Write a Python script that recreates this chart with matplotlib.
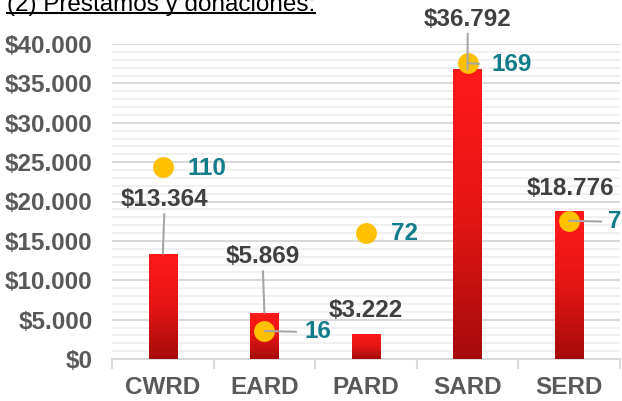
import numpy as np
import matplotlib
matplotlib.use("Agg")
import matplotlib.pyplot as plt
from matplotlib import font_manager
from matplotlib.colors import LinearSegmentedColormap
from matplotlib.lines import Line2D

# data
categories = ["CWRD", "EARD", "PARD", "SARD", "SERD"]
amounts = [13364, 5869, 3222, 36792, 18776]
amount_labels = ["$13.364", "$5.869", "$3.222", "$36.792", "$18.776"]
counts = [110, 16, 72, 169, 79]
count_labels = ["110", "16", "72", "169", "79"]
yticks = [0, 5000, 10000, 15000, 20000, 25000, 30000, 35000, 40000]
ytick_labels = ["$0", "$5.000", "$10.000", "$15.000", "$20.000",
                "$25.000", "$30.000", "$35.000", "$40.000"]
title = "(2) Préstamos y donaciones:"

# label placement (pixel offsets) and leader lines
amt_off = [(2, 54), (-2, 56), (0, 23), (0, 50), (1, 23)]
amt_line = [True, True, False, True, False]
cnt_off = [(25, -2), (40, -1), (25, -1), (24, -1), (39, -1)]
cnt_line = [False, True, False, True, True]
cnt_shrink = [0, 4, 0, 7, 3]

names = {f.name for f in font_manager.fontManager.ttflist}
plt.rcParams["font.family"] = ["Liberation Sans", "DejaVu Sans"]

GRAY = "#595959"
DARK = "#404040"
TEAL = "#127D8A"
LINE = "#A6A6A6"
FS = 17.5

fig = plt.figure(figsize=(6.22, 4.01), dpi=100)
ax = fig.add_axes([112 / 622, 1 - 359 / 401, 508 / 622, 315 / 401])
ax2 = ax.twinx()

x = np.arange(len(categories))
bars = ax.bar(x, amounts, width=0.28, color="#E01414", zorder=2)

# gradient fill per bar
cmap = LinearSegmentedColormap.from_list("redgrad", ["#A50B0B", "#E51515", "#FF1A1A"])
grad = np.linspace(0, 1, 256).reshape(-1, 1)
for b in bars:
    x0, w, h = b.get_x(), b.get_width(), b.get_height()
    im = ax.imshow(grad, cmap=cmap, origin="lower", aspect="auto",
                   extent=(x0, x0 + w, 0, h), zorder=3)
    im.set_clip_path(b)

ax.set_xlim(-0.5, len(categories) - 0.5)
ax.set_ylim(0, 40000)
ax.set_yticks(yticks)
ax.set_yticklabels(ytick_labels)
ax.set_yticks(np.arange(0, 40001, 1000), minor=True)
ax.grid(which="major", axis="y", color="#D9D9D9", linewidth=1.5, zorder=0)
ax.grid(which="minor", axis="y", color="#F0F0F0", linewidth=1.5, zorder=0)
ax.set_axisbelow(True)
ax.tick_params(axis="y", which="both", length=0, pad=14,
               labelsize=FS, labelcolor=GRAY)
for lab in ax.get_yticklabels():
    lab.set_fontweight("bold")

ax.set_xticks(x)
ax.set_xticklabels(categories, fontsize=FS, fontweight="bold", color=GRAY)
ax.set_xticks(np.arange(-0.5, len(categories), 1), minor=True)
ax.tick_params(axis="x", which="major", length=0, pad=12)
ax.tick_params(axis="x", which="minor", length=7, width=1.5, color="#D9D9D9")
for s in ["top", "right", "left"]:
    ax.spines[s].set_visible(False)
ax.spines["bottom"].set_color("#D9D9D9")
ax.spines["bottom"].set_linewidth(1.5)

ax2.set_ylim(0, 180)
ax2.axis("off")
ax2.plot(x, counts, "o", color="#FFC000", ms=15, mec="none", zorder=4, clip_on=False)

for i in range(len(categories)):
    ap = dict(arrowstyle="-", color=LINE, lw=1.5, shrinkA=0, shrinkB=0) if amt_line[i] else None
    ax2.annotate(amount_labels[i], xy=(x[i], amounts[i]), xycoords=ax.transData,
                 xytext=amt_off[i], textcoords="offset pixels",
                 ha="center", va="center", fontsize=FS, fontweight="bold",
                 color=DARK, arrowprops=ap, annotation_clip=False, zorder=6)
    ap = (dict(arrowstyle="-", color=LINE, lw=1.5, shrinkA=cnt_shrink[i], shrinkB=0,
               relpos=(0, 0.5)) if cnt_line[i] else None)
    ax2.annotate(count_labels[i], xy=(x[i], counts[i]),
                 xytext=cnt_off[i], textcoords="offset pixels",
                 ha="left", va="center", fontsize=FS, fontweight="bold",
                 color=TEAL, arrowprops=ap, annotation_clip=False, zorder=6)

# title, mostly cut off at the top edge
if "Liberation Sans Narrow" in names:
    tfam, tsize = "Liberation Sans Narrow", 21
else:
    tfam, tsize = "Liberation Sans", 17.5
t = fig.text(7 / 622, 1 - 11 / 401, title, family=tfam, fontsize=tsize,
             color="black", ha="left", va="baseline")
fig.canvas.draw()
bb = t.get_window_extent()
fig.add_artist(Line2D([bb.x0 / 622, bb.x1 / 622], [1 - 13 / 401] * 2,
                      color="black", lw=1.5, transform=fig.transFigure))

fig.savefig("out.png", dpi=100)
